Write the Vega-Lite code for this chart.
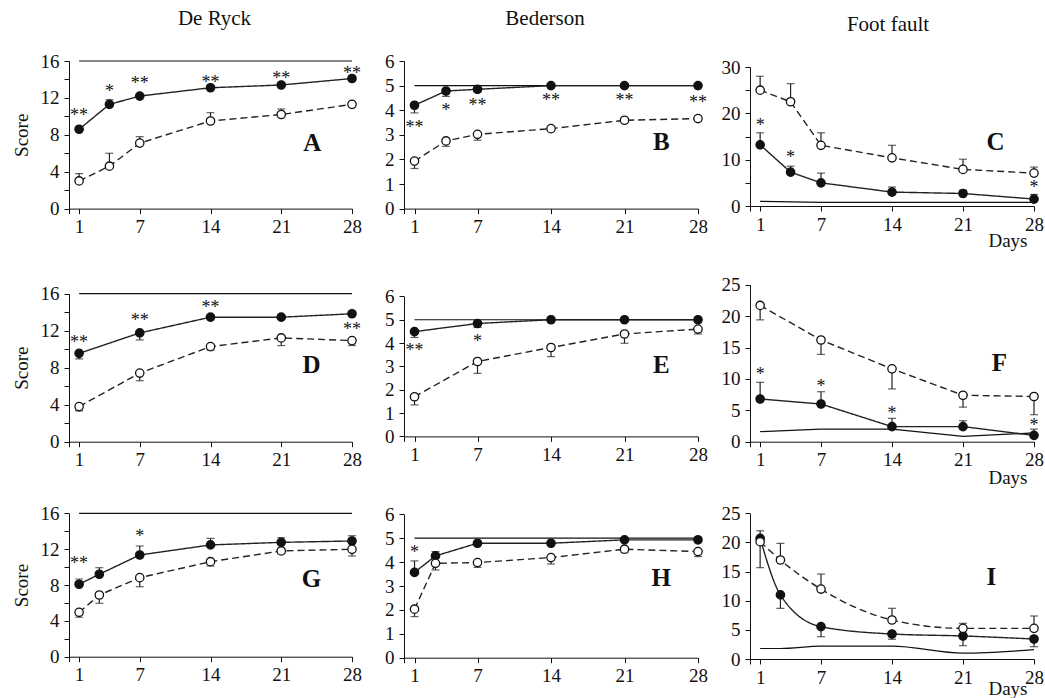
{
"$schema": "https://vega.github.io/schema/vega-lite/v6.json",
"padding": {"left": 12, "top": 8, "right": 0, "bottom": 0},
"background": "white",
"datasets": {
"obs": [
{"panel":"A","group":"filled","day":1,"score":8.6,"err":8.6},{"panel":"A","group":"filled","day":4,"score":11.3,"err":11.8},{"panel":"A","group":"filled","day":7,"score":12.2,"err":12.2},{"panel":"A","group":"filled","day":14,"score":13.1,"err":13.1},{"panel":"A","group":"filled","day":21,"score":13.4,"err":13.4},{"panel":"A","group":"filled","day":28,"score":14.1,"err":14.1},
{"panel":"A","group":"open","day":1,"score":3.0,"err":3.8},{"panel":"A","group":"open","day":4,"score":4.6,"err":6.0},{"panel":"A","group":"open","day":7,"score":7.1,"err":7.8},{"panel":"A","group":"open","day":14,"score":9.5,"err":10.4},{"panel":"A","group":"open","day":21,"score":10.2,"err":10.8},{"panel":"A","group":"open","day":28,"score":11.3,"err":11.6},
{"panel":"B","group":"filled","day":1,"score":4.2,"err":3.89},{"panel":"B","group":"filled","day":4,"score":4.78,"err":4.56},{"panel":"B","group":"filled","day":7,"score":4.85,"err":4.75},{"panel":"B","group":"filled","day":14,"score":5,"err":5},{"panel":"B","group":"filled","day":21,"score":5,"err":5},{"panel":"B","group":"filled","day":28,"score":5,"err":5},
{"panel":"B","group":"open","day":1,"score":1.93,"err":1.63},{"panel":"B","group":"open","day":4,"score":2.75,"err":2.53},{"panel":"B","group":"open","day":7,"score":3.02,"err":2.78},{"panel":"B","group":"open","day":14,"score":3.25,"err":3.25},{"panel":"B","group":"open","day":21,"score":3.59,"err":3.59},{"panel":"B","group":"open","day":28,"score":3.66,"err":3.6},
{"panel":"C","group":"filled","day":1,"score":13.2,"err":15.8},{"panel":"C","group":"filled","day":4,"score":7.3,"err":8.6},{"panel":"C","group":"filled","day":7,"score":5.0,"err":7.1},{"panel":"C","group":"filled","day":14,"score":3.0,"err":4.1},{"panel":"C","group":"filled","day":21,"score":2.7,"err":3.4},{"panel":"C","group":"filled","day":28,"score":1.5,"err":2.5},
{"panel":"C","group":"open","day":1,"score":25.0,"err":28.0},{"panel":"C","group":"open","day":4,"score":22.5,"err":26.4},{"panel":"C","group":"open","day":7,"score":13.1,"err":15.8},{"panel":"C","group":"open","day":14,"score":10.4,"err":13.1},{"panel":"C","group":"open","day":21,"score":7.9,"err":10.1},{"panel":"C","group":"open","day":28,"score":7.1,"err":8.4},
{"panel":"D","group":"filled","day":1,"score":9.55,"err":8.95},{"panel":"D","group":"filled","day":7,"score":11.76,"err":11.0},{"panel":"D","group":"filled","day":14,"score":13.46,"err":13.46},{"panel":"D","group":"filled","day":21,"score":13.46,"err":13.46},{"panel":"D","group":"filled","day":28,"score":13.83,"err":13.83},
{"panel":"D","group":"open","day":1,"score":3.8,"err":3.33},{"panel":"D","group":"open","day":7,"score":7.42,"err":6.59},{"panel":"D","group":"open","day":14,"score":10.28,"err":9.92},{"panel":"D","group":"open","day":21,"score":11.22,"err":10.39},{"panel":"D","group":"open","day":28,"score":10.93,"err":10.4},
{"panel":"E","group":"filled","day":1,"score":4.49,"err":4.24},{"panel":"E","group":"filled","day":7,"score":4.84,"err":4.67},{"panel":"E","group":"filled","day":14,"score":5,"err":5},{"panel":"E","group":"filled","day":21,"score":5,"err":5},{"panel":"E","group":"filled","day":28,"score":5,"err":5},
{"panel":"E","group":"open","day":1,"score":1.7,"err":1.35},{"panel":"E","group":"open","day":7,"score":3.21,"err":2.7},{"panel":"E","group":"open","day":14,"score":3.81,"err":3.42},{"panel":"E","group":"open","day":21,"score":4.39,"err":3.99},{"panel":"E","group":"open","day":28,"score":4.6,"err":4.39},
{"panel":"F","group":"filled","day":1,"score":6.8,"err":9.45},{"panel":"F","group":"filled","day":7,"score":6.0,"err":7.96},{"panel":"F","group":"filled","day":14,"score":2.4,"err":3.71},{"panel":"F","group":"filled","day":21,"score":2.4,"err":3.34},{"panel":"F","group":"filled","day":28,"score":1.0,"err":2.0},
{"panel":"F","group":"open","day":1,"score":21.7,"err":19.4},{"panel":"F","group":"open","day":7,"score":16.2,"err":13.9},{"panel":"F","group":"open","day":14,"score":11.6,"err":8.4},{"panel":"F","group":"open","day":21,"score":7.4,"err":5.5},{"panel":"F","group":"open","day":28,"score":7.2,"err":4.3},
{"panel":"G","group":"filled","day":1,"score":8.08,"err":8.67},{"panel":"G","group":"filled","day":3,"score":9.2,"err":9.93},{"panel":"G","group":"filled","day":7,"score":11.35,"err":12.35},{"panel":"G","group":"filled","day":14,"score":12.47,"err":13.2},{"panel":"G","group":"filled","day":21,"score":12.76,"err":13.28},{"panel":"G","group":"filled","day":28,"score":12.91,"err":13.5},
{"panel":"G","group":"open","day":1,"score":4.95,"err":4.4},{"panel":"G","group":"open","day":3,"score":6.88,"err":5.96},{"panel":"G","group":"open","day":7,"score":8.82,"err":7.81},{"panel":"G","group":"open","day":14,"score":10.6,"err":10.12},{"panel":"G","group":"open","day":21,"score":11.8,"err":11.5},{"panel":"G","group":"open","day":28,"score":11.98,"err":11.24},
{"panel":"H","group":"filled","day":1,"score":3.57,"err":4.05},{"panel":"H","group":"filled","day":3,"score":4.26,"err":4.44},{"panel":"H","group":"filled","day":7,"score":4.79,"err":4.79},{"panel":"H","group":"filled","day":14,"score":4.79,"err":4.79},{"panel":"H","group":"filled","day":21,"score":4.93,"err":5.0},{"panel":"H","group":"filled","day":28,"score":4.93,"err":5.05},
{"panel":"H","group":"open","day":1,"score":2.03,"err":1.72},{"panel":"H","group":"open","day":3,"score":3.95,"err":3.67},{"panel":"H","group":"open","day":7,"score":3.98,"err":3.78},{"panel":"H","group":"open","day":14,"score":4.19,"err":3.92},{"panel":"H","group":"open","day":21,"score":4.54,"err":4.39},{"panel":"H","group":"open","day":28,"score":4.44,"err":4.23},
{"panel":"I","group":"filled","day":1,"score":20.7,"err":22.0},{"panel":"I","group":"filled","day":3,"score":11.0,"err":8.7},{"panel":"I","group":"filled","day":7,"score":5.55,"err":3.83},{"panel":"I","group":"filled","day":14,"score":4.29,"err":3.38},{"panel":"I","group":"filled","day":21,"score":3.95,"err":2.29},{"panel":"I","group":"filled","day":28,"score":3.43,"err":2.11},
{"panel":"I","group":"open","day":1,"score":20.13,"err":15.67},{"panel":"I","group":"open","day":3,"score":16.98,"err":19.84},{"panel":"I","group":"open","day":7,"score":12.0,"err":14.58},{"panel":"I","group":"open","day":14,"score":6.69,"err":8.7},{"panel":"I","group":"open","day":21,"score":5.26,"err":6.12},{"panel":"I","group":"open","day":28,"score":5.26,"err":7.38}
],
"sham": [
{"panel":"A","day":1,"score":16},{"panel":"A","day":28,"score":16},
{"panel":"B","day":1,"score":5},{"panel":"B","day":28,"score":5},
{"panel":"C","day":1,"score":1.0},{"panel":"C","day":7,"score":0.8},{"panel":"C","day":28,"score":0.8},
{"panel":"D","day":1,"score":16},{"panel":"D","day":28,"score":16},
{"panel":"E","day":1,"score":5},{"panel":"E","day":28,"score":5},
{"panel":"F","day":1,"score":1.6},{"panel":"F","day":7,"score":2.0},{"panel":"F","day":14,"score":2.0},{"panel":"F","day":21,"score":0.85},{"panel":"F","day":28,"score":1.4},
{"panel":"G","day":1,"score":16},{"panel":"G","day":28,"score":16},
{"panel":"H","day":1,"score":5},{"panel":"H","day":28,"score":5},
{"panel":"I","day":1,"score":1.8},{"panel":"I","day":3,"score":1.8},{"panel":"I","day":7,"score":2.2},{"panel":"I","day":14,"score":2.2},{"panel":"I","day":21,"score":1.0},{"panel":"I","day":28,"score":1.6}
],
"sig": [
{"panel":"A","day":1,"score":10.47,"label":"**"},{"panel":"A","day":4,"score":13.07,"label":"*"},{"panel":"A","day":7,"score":13.98,"label":"**"},{"panel":"A","day":14,"score":14.09,"label":"**"},{"panel":"A","day":21,"score":14.45,"label":"**"},{"panel":"A","day":28,"score":15.07,"label":"**"},
{"panel":"B","day":1,"score":3.45,"label":"**"},{"panel":"B","day":4,"score":4.13,"label":"*"},{"panel":"B","day":7,"score":4.33,"label":"**"},{"panel":"B","day":14,"score":4.54,"label":"**"},{"panel":"B","day":21,"score":4.54,"label":"**"},{"panel":"B","day":28,"score":4.47,"label":"**"},
{"panel":"C","day":1,"score":18.1,"label":"*"},{"panel":"C","day":4,"score":11.3,"label":"*"},{"panel":"C","day":28,"score":4.8,"label":"*"},
{"panel":"D","day":1,"score":11.1,"label":"**"},{"panel":"D","day":7,"score":13.46,"label":"**"},{"panel":"D","day":14,"score":14.9,"label":"**"},{"panel":"D","day":28,"score":12.56,"label":"**"},
{"panel":"E","day":1,"score":3.84,"label":"**"},{"panel":"E","day":7,"score":4.2,"label":"*"},
{"panel":"F","day":1,"score":11.2,"label":"*"},{"panel":"F","day":7,"score":9.3,"label":"*"},{"panel":"F","day":14,"score":5.05,"label":"*"},{"panel":"F","day":28,"score":3.2,"label":"*"},
{"panel":"G","day":1,"score":10.8,"label":"**"},{"panel":"G","day":7,"score":13.77,"label":"*"},
{"panel":"H","day":1,"score":4.55,"label":"*"}
],
"letters": [
{"panel":"A","day":24.06,"score":7.1,"letter":"A"},{"panel":"B","day":24.5,"score":2.7,"letter":"B"},{"panel":"C","day":24.2,"score":13.8,"letter":"C"},
{"panel":"D","day":24,"score":8.3,"letter":"D"},{"panel":"E","day":24.5,"score":3.06,"letter":"E"},{"panel":"F","day":24.6,"score":12.5,"letter":"F"},
{"panel":"G","day":24,"score":8.64,"letter":"G"},{"panel":"H","day":24.5,"score":3.32,"letter":"H"},{"panel":"I","day":23.8,"score":14.0,"letter":"I"}
]
},
"spacing": 25,
"vconcat": [
{"hconcat": [
{"width": 283, "height": 147.6, "title": {"text": "De Ryck", "dx": 4},
 "encoding": {
  "x": {"field":"day","type":"quantitative","scale":{"domain":[0,28],"nice":false},"axis":{"values":[0,1,7,14,21,28],"labelExpr":"datum.value===0?'':datum.label","title":null}},
  "y": {"field":"score","type":"quantitative","scale":{"domain":[0,16],"range":[147.6,0],"nice":false},"axis":{"values":[0,2,4,6,8,10,12,14,16],"labelExpr":"datum.value%4===0?datum.label:''","title":"Score"}}},
 "layer": [
  {"data":{"name":"sham"},"transform":[{"filter":"datum.panel==='A'"}],"mark":{"type":"line","color":"#111","strokeWidth":1.2},"encoding":{}},
  {"data":{"name":"obs"},"transform":[{"filter":"datum.panel==='A'"}],"layer":[
   {"mark":{"type":"line","color":"#222","strokeWidth":1.4},"encoding":{"strokeDash":{"field":"group","type":"nominal","scale":{"domain":["filled","open"],"range":[[1,0],[7,4]]},"legend":null}}},
   {"mark":{"type":"rule","color":"#222","strokeWidth":1.2},"encoding":{"y2":{"field":"err"}}},
   {"mark":{"type":"tick","orient":"horizontal","size":8,"thickness":1.2,"color":"#222"},"encoding":{"y":{"field":"err","type":"quantitative"}}},
   {"mark":{"type":"point","filled":true,"size":70,"stroke":"#111","strokeWidth":1.3,"opacity":1},"encoding":{"fill":{"field":"group","type":"nominal","scale":{"domain":["filled","open"],"range":["#111111","#ffffff"]},"legend":null}}}
  ]},
  {"data":{"name":"sig"},"transform":[{"filter":"datum.panel==='A'"}],"mark":{"type":"text","fontSize":18,"baseline":"alphabetic","dy":9},"encoding":{"text":{"field":"label"}}},
  {"data":{"name":"letters"},"transform":[{"filter":"datum.panel==='A'"}],"mark":{"type":"text","fontSize":25,"fontWeight":"bold","baseline":"middle"},"encoding":{"text":{"field":"letter"}}}
 ]},
{"width": 294, "height": 147.6, "title": {"text": "Bederson", "dx": -6},
 "encoding": {
  "x": {"field":"day","type":"quantitative","scale":{"domain":[0,28],"nice":false},"axis":{"values":[0,1,7,14,21,28],"labelExpr":"datum.value===0?'':datum.label","title":null}},
  "y": {"field":"score","type":"quantitative","scale":{"domain":[0,6],"range":[147.6,0],"nice":false},"axis":{"values":[0,1,2,3,4,5,6],"title":null}}},
 "layer": [
  {"data":{"name":"sham"},"transform":[{"filter":"datum.panel==='B'"}],"mark":{"type":"line","color":"#111","strokeWidth":1.2},"encoding":{}},
  {"data":{"name":"obs"},"transform":[{"filter":"datum.panel==='B'"}],"layer":[
   {"mark":{"type":"line","color":"#222","strokeWidth":1.4},"encoding":{"strokeDash":{"field":"group","type":"nominal","scale":{"domain":["filled","open"],"range":[[1,0],[7,4]]},"legend":null}}},
   {"mark":{"type":"rule","color":"#222","strokeWidth":1.2},"encoding":{"y2":{"field":"err"}}},
   {"mark":{"type":"tick","orient":"horizontal","size":8,"thickness":1.2,"color":"#222"},"encoding":{"y":{"field":"err","type":"quantitative"}}},
   {"mark":{"type":"point","filled":true,"size":70,"stroke":"#111","strokeWidth":1.3,"opacity":1},"encoding":{"fill":{"field":"group","type":"nominal","scale":{"domain":["filled","open"],"range":["#111111","#ffffff"]},"legend":null}}}
  ]},
  {"data":{"name":"sig"},"transform":[{"filter":"datum.panel==='B'"}],"mark":{"type":"text","fontSize":18,"baseline":"alphabetic","dy":9},"encoding":{"text":{"field":"label"}}},
  {"data":{"name":"letters"},"transform":[{"filter":"datum.panel==='B'"}],"mark":{"type":"text","fontSize":25,"fontWeight":"bold","baseline":"middle"},"encoding":{"text":{"field":"letter"}}}
 ]},
{"width": 284, "height": 147.6, "title": {"text": "Foot fault", "dx": -4},
 "encoding": {
  "x": {"field":"day","type":"quantitative","scale":{"domain":[0,28],"nice":false},"axis":{"values":[0,1,7,14,21,28],"labelExpr":"datum.value===0?'':datum.label","offset":-2.6,"title":"Days","titleAnchor":"end","titleAlign":"right","titleX":277,"titleY":40,"titleBaseline":"alphabetic"}},
  "y": {"field":"score","type":"quantitative","scale":{"domain":[0,30],"range":[145,6],"nice":false},"axis":{"values":[0,5,10,15,20,25,30],"labelExpr":"datum.value%10===0?datum.label:''","title":null}}},
 "layer": [
  {"data":{"name":"sham"},"transform":[{"filter":"datum.panel==='C'"}],"mark":{"type":"line","color":"#111","strokeWidth":1.2},"encoding":{}},
  {"data":{"name":"obs"},"transform":[{"filter":"datum.panel==='C'"}],"layer":[
   {"mark":{"type":"line","color":"#222","strokeWidth":1.4},"encoding":{"strokeDash":{"field":"group","type":"nominal","scale":{"domain":["filled","open"],"range":[[1,0],[7,4]]},"legend":null}}},
   {"mark":{"type":"rule","color":"#222","strokeWidth":1.2},"encoding":{"y2":{"field":"err"}}},
   {"mark":{"type":"tick","orient":"horizontal","size":8,"thickness":1.2,"color":"#222"},"encoding":{"y":{"field":"err","type":"quantitative"}}},
   {"mark":{"type":"point","filled":true,"size":70,"stroke":"#111","strokeWidth":1.3,"opacity":1},"encoding":{"fill":{"field":"group","type":"nominal","scale":{"domain":["filled","open"],"range":["#111111","#ffffff"]},"legend":null}}}
  ]},
  {"data":{"name":"sig"},"transform":[{"filter":"datum.panel==='C'"}],"mark":{"type":"text","fontSize":18,"baseline":"alphabetic","dy":9},"encoding":{"text":{"field":"label"}}},
  {"data":{"name":"letters"},"transform":[{"filter":"datum.panel==='C'"}],"mark":{"type":"text","fontSize":25,"fontWeight":"bold","baseline":"middle"},"encoding":{"text":{"field":"letter"}}}
 ]}
], "spacing": 52, "bounds": "flush"},
{"spacing": 16, "vconcat": [
{"hconcat": [
{"width": 283, "height": 160.7,
 "encoding": {
  "x": {"field":"day","type":"quantitative","scale":{"domain":[0,28],"nice":false},"axis":{"values":[0,1,7,14,21,28],"labelExpr":"datum.value===0?'':datum.label","title":null}},
  "y": {"field":"score","type":"quantitative","scale":{"domain":[0,16],"range":[160.7,12.7],"nice":false},"axis":{"values":[0,2,4,6,8,10,12,14,16],"labelExpr":"datum.value%4===0?datum.label:''","title":"Score"}}},
 "layer": [
  {"data":{"name":"sham"},"transform":[{"filter":"datum.panel==='D'"}],"mark":{"type":"line","color":"#111","strokeWidth":1.2},"encoding":{}},
  {"data":{"name":"obs"},"transform":[{"filter":"datum.panel==='D'"}],"layer":[
   {"mark":{"type":"line","color":"#222","strokeWidth":1.4},"encoding":{"strokeDash":{"field":"group","type":"nominal","scale":{"domain":["filled","open"],"range":[[1,0],[7,4]]},"legend":null}}},
   {"mark":{"type":"rule","color":"#222","strokeWidth":1.2},"encoding":{"y2":{"field":"err"}}},
   {"mark":{"type":"tick","orient":"horizontal","size":8,"thickness":1.2,"color":"#222"},"encoding":{"y":{"field":"err","type":"quantitative"}}},
   {"mark":{"type":"point","filled":true,"size":70,"stroke":"#111","strokeWidth":1.3,"opacity":1},"encoding":{"fill":{"field":"group","type":"nominal","scale":{"domain":["filled","open"],"range":["#111111","#ffffff"]},"legend":null}}}
  ]},
  {"data":{"name":"sig"},"transform":[{"filter":"datum.panel==='D'"}],"mark":{"type":"text","fontSize":18,"baseline":"alphabetic","dy":9},"encoding":{"text":{"field":"label"}}},
  {"data":{"name":"letters"},"transform":[{"filter":"datum.panel==='D'"}],"mark":{"type":"text","fontSize":25,"fontWeight":"bold","baseline":"middle"},"encoding":{"text":{"field":"letter"}}}
 ]},
{"width": 294, "height": 160.7,
 "encoding": {
  "x": {"field":"day","type":"quantitative","scale":{"domain":[0,28],"nice":false},"axis":{"values":[0,1,7,14,21,28],"labelExpr":"datum.value===0?'':datum.label","offset":-5.3,"title":null}},
  "y": {"field":"score","type":"quantitative","scale":{"domain":[0,6],"range":[155.4,15.4],"nice":false},"axis":{"values":[0,1,2,3,4,5,6],"title":null}}},
 "layer": [
  {"data":{"name":"sham"},"transform":[{"filter":"datum.panel==='E'"}],"mark":{"type":"line","color":"#111","strokeWidth":1.2},"encoding":{}},
  {"data":{"name":"obs"},"transform":[{"filter":"datum.panel==='E'"}],"layer":[
   {"mark":{"type":"line","color":"#222","strokeWidth":1.4},"encoding":{"strokeDash":{"field":"group","type":"nominal","scale":{"domain":["filled","open"],"range":[[1,0],[7,4]]},"legend":null}}},
   {"mark":{"type":"rule","color":"#222","strokeWidth":1.2},"encoding":{"y2":{"field":"err"}}},
   {"mark":{"type":"tick","orient":"horizontal","size":8,"thickness":1.2,"color":"#222"},"encoding":{"y":{"field":"err","type":"quantitative"}}},
   {"mark":{"type":"point","filled":true,"size":70,"stroke":"#111","strokeWidth":1.3,"opacity":1},"encoding":{"fill":{"field":"group","type":"nominal","scale":{"domain":["filled","open"],"range":["#111111","#ffffff"]},"legend":null}}}
  ]},
  {"data":{"name":"sig"},"transform":[{"filter":"datum.panel==='E'"}],"mark":{"type":"text","fontSize":18,"baseline":"alphabetic","dy":9},"encoding":{"text":{"field":"label"}}},
  {"data":{"name":"letters"},"transform":[{"filter":"datum.panel==='E'"}],"mark":{"type":"text","fontSize":25,"fontWeight":"bold","baseline":"middle"},"encoding":{"text":{"field":"letter"}}}
 ]},
{"width": 284, "height": 160.7,
 "encoding": {
  "x": {"field":"day","type":"quantitative","scale":{"domain":[0,28],"nice":false},"axis":{"values":[0,1,7,14,21,28],"labelExpr":"datum.value===0?'':datum.label","title":"Days","titleAnchor":"end","titleAlign":"right","titleX":277,"titleY":42,"titleBaseline":"alphabetic"}},
  "y": {"field":"score","type":"quantitative","scale":{"domain":[0,25],"range":[160.7,3.7],"nice":false},"axis":{"values":[0,5,10,15,20,25],"title":null}}},
 "layer": [
  {"data":{"name":"sham"},"transform":[{"filter":"datum.panel==='F'"}],"mark":{"type":"line","color":"#111","strokeWidth":1.2},"encoding":{}},
  {"data":{"name":"obs"},"transform":[{"filter":"datum.panel==='F'"}],"layer":[
   {"mark":{"type":"line","color":"#222","strokeWidth":1.4},"encoding":{"strokeDash":{"field":"group","type":"nominal","scale":{"domain":["filled","open"],"range":[[1,0],[7,4]]},"legend":null}}},
   {"mark":{"type":"rule","color":"#222","strokeWidth":1.2},"encoding":{"y2":{"field":"err"}}},
   {"mark":{"type":"tick","orient":"horizontal","size":8,"thickness":1.2,"color":"#222"},"encoding":{"y":{"field":"err","type":"quantitative"}}},
   {"mark":{"type":"point","filled":true,"size":70,"stroke":"#111","strokeWidth":1.3,"opacity":1},"encoding":{"fill":{"field":"group","type":"nominal","scale":{"domain":["filled","open"],"range":["#111111","#ffffff"]},"legend":null}}}
  ]},
  {"data":{"name":"sig"},"transform":[{"filter":"datum.panel==='F'"}],"mark":{"type":"text","fontSize":18,"baseline":"alphabetic","dy":9},"encoding":{"text":{"field":"label"}}},
  {"data":{"name":"letters"},"transform":[{"filter":"datum.panel==='F'"}],"mark":{"type":"text","fontSize":25,"fontWeight":"bold","baseline":"middle"},"encoding":{"text":{"field":"letter"}}}
 ]}
], "spacing": 52, "bounds": "flush"},
{"hconcat": [
{"width": 283, "height": 146,
 "encoding": {
  "x": {"field":"day","type":"quantitative","scale":{"domain":[0,28],"nice":false},"axis":{"values":[0,1,7,14,21,28],"labelExpr":"datum.value===0?'':datum.label","offset":-2.3,"title":null}},
  "y": {"field":"score","type":"quantitative","scale":{"domain":[0,16],"range":[143.7,0.3],"nice":false},"axis":{"values":[0,2,4,6,8,10,12,14,16],"labelExpr":"datum.value%4===0?datum.label:''","title":"Score"}}},
 "layer": [
  {"data":{"name":"sham"},"transform":[{"filter":"datum.panel==='G'"}],"mark":{"type":"line","color":"#111","strokeWidth":1.2},"encoding":{}},
  {"data":{"name":"obs"},"transform":[{"filter":"datum.panel==='G'"}],"layer":[
   {"mark":{"type":"line","color":"#222","strokeWidth":1.4},"encoding":{"strokeDash":{"field":"group","type":"nominal","scale":{"domain":["filled","open"],"range":[[1,0],[7,4]]},"legend":null}}},
   {"mark":{"type":"rule","color":"#222","strokeWidth":1.2},"encoding":{"y2":{"field":"err"}}},
   {"mark":{"type":"tick","orient":"horizontal","size":8,"thickness":1.2,"color":"#222"},"encoding":{"y":{"field":"err","type":"quantitative"}}},
   {"mark":{"type":"point","filled":true,"size":70,"stroke":"#111","strokeWidth":1.3,"opacity":1},"encoding":{"fill":{"field":"group","type":"nominal","scale":{"domain":["filled","open"],"range":["#111111","#ffffff"]},"legend":null}}}
  ]},
  {"data":{"name":"sig"},"transform":[{"filter":"datum.panel==='G'"}],"mark":{"type":"text","fontSize":18,"baseline":"alphabetic","dy":9},"encoding":{"text":{"field":"label"}}},
  {"data":{"name":"letters"},"transform":[{"filter":"datum.panel==='G'"}],"mark":{"type":"text","fontSize":25,"fontWeight":"bold","baseline":"middle"},"encoding":{"text":{"field":"letter"}}}
 ]},
{"width": 294, "height": 146,
 "encoding": {
  "x": {"field":"day","type":"quantitative","scale":{"domain":[0,28],"nice":false},"axis":{"values":[0,1,7,14,21,28],"labelExpr":"datum.value===0?'':datum.label","offset":-1.3,"title":null}},
  "y": {"field":"score","type":"quantitative","scale":{"domain":[0,6],"range":[144.7,1.3],"nice":false},"axis":{"values":[0,1,2,3,4,5,6],"title":null}}},
 "layer": [
  {"data":{"name":"sham"},"transform":[{"filter":"datum.panel==='H'"}],"mark":{"type":"line","color":"#111","strokeWidth":1.2},"encoding":{}},
  {"data":{"name":"obs"},"transform":[{"filter":"datum.panel==='H'"}],"layer":[
   {"mark":{"type":"line","color":"#222","strokeWidth":1.4},"encoding":{"strokeDash":{"field":"group","type":"nominal","scale":{"domain":["filled","open"],"range":[[1,0],[7,4]]},"legend":null}}},
   {"mark":{"type":"rule","color":"#222","strokeWidth":1.2},"encoding":{"y2":{"field":"err"}}},
   {"mark":{"type":"tick","orient":"horizontal","size":8,"thickness":1.2,"color":"#222"},"encoding":{"y":{"field":"err","type":"quantitative"}}},
   {"mark":{"type":"point","filled":true,"size":70,"stroke":"#111","strokeWidth":1.3,"opacity":1},"encoding":{"fill":{"field":"group","type":"nominal","scale":{"domain":["filled","open"],"range":["#111111","#ffffff"]},"legend":null}}}
  ]},
  {"data":{"name":"sig"},"transform":[{"filter":"datum.panel==='H'"}],"mark":{"type":"text","fontSize":18,"baseline":"alphabetic","dy":9},"encoding":{"text":{"field":"label"}}},
  {"data":{"name":"letters"},"transform":[{"filter":"datum.panel==='H'"}],"mark":{"type":"text","fontSize":25,"fontWeight":"bold","baseline":"middle"},"encoding":{"text":{"field":"letter"}}}
 ]},
{"width": 284, "height": 146,
 "encoding": {
  "x": {"field":"day","type":"quantitative","scale":{"domain":[0,28],"nice":false},"axis":{"values":[0,1,7,14,21,28],"labelExpr":"datum.value===0?'':datum.label","title":"Days","titleAnchor":"end","titleAlign":"right","titleX":277,"titleY":35,"titleBaseline":"alphabetic"}},
  "y": {"field":"score","type":"quantitative","scale":{"domain":[0,25],"range":[146,0.3],"nice":false},"axis":{"values":[0,5,10,15,20,25],"title":null}}},
 "layer": [
  {"data":{"name":"sham"},"transform":[{"filter":"datum.panel==='I'"}],"mark":{"type":"line","color":"#111","strokeWidth":1.2,"interpolate":"monotone"},"encoding":{}},
  {"data":{"name":"obs"},"transform":[{"filter":"datum.panel==='I'"}],"layer":[
   {"mark":{"type":"line","color":"#222","strokeWidth":1.4,"interpolate":"monotone"},"encoding":{"strokeDash":{"field":"group","type":"nominal","scale":{"domain":["filled","open"],"range":[[1,0],[7,4]]},"legend":null}}},
   {"mark":{"type":"rule","color":"#222","strokeWidth":1.2},"encoding":{"y2":{"field":"err"}}},
   {"mark":{"type":"tick","orient":"horizontal","size":8,"thickness":1.2,"color":"#222"},"encoding":{"y":{"field":"err","type":"quantitative"}}},
   {"mark":{"type":"point","filled":true,"size":70,"stroke":"#111","strokeWidth":1.3,"opacity":1},"encoding":{"fill":{"field":"group","type":"nominal","scale":{"domain":["filled","open"],"range":["#111111","#ffffff"]},"legend":null}}}
  ]},
  {"data":{"name":"letters"},"transform":[{"filter":"datum.panel==='I'"}],"mark":{"type":"text","fontSize":25,"fontWeight":"bold","baseline":"middle"},"encoding":{"text":{"field":"letter"}}}
 ]}
], "spacing": 52, "bounds": "flush"}
]}
],
"config": {
 "view": {"stroke": null},
 "font": "Liberation Serif",
 "text": {"font": "Liberation Serif", "color": "#111"},
 "title": {"font": "Liberation Serif", "fontSize": 21, "fontWeight": "normal", "color": "#111", "anchor": "middle", "offset": 23},
 "axis": {"grid": false, "domainColor": "#111", "domainWidth": 1, "tickColor": "#111", "tickWidth": 1, "tickSize": 5, "labelColor": "#111", "labelFont": "Liberation Serif", "labelFontSize": 19, "labelPadding": 4, "labelFlush": false, "labelOverlap": false, "titleFont": "Liberation Serif", "titleFontSize": 19, "titleFontWeight": "normal", "titleColor": "#111"},
 "axisY": {"labelPadding": 5, "titlePadding": 9}
}
}
